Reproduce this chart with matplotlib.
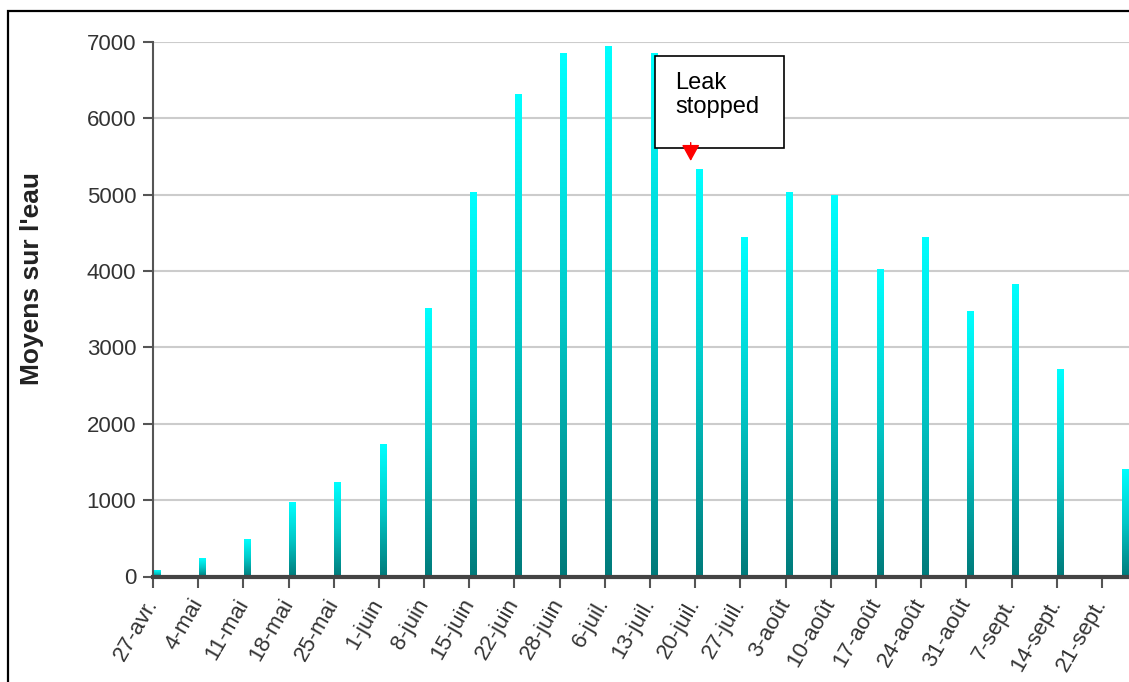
import numpy as np
import matplotlib
matplotlib.use('Agg')
import matplotlib.pyplot as plt
from matplotlib.patches import Rectangle
from matplotlib.colors import LinearSegmentedColormap

plt.rcParams['font.family'] = ['Liberation Sans', 'DejaVu Sans']

# weekly tick labels (days since 27 april)
tick_labels = ['27-avr.', '4-mai', '11-mai', '18-mai', '25-mai', '1-juin', '8-juin',
               '15-juin', '22-juin', '28-juin', '6-juil.', '13-juil.', '20-juil.',
               '27-juil.', '3-août', '10-août', '17-août', '24-août', '31-août',
               '7-sept.', '14-sept.', '21-sept.']
tick_days = [7 * i for i in range(len(tick_labels))]

# bars: day offset and vessels on the water
bar_days = [0, 7, 14, 21, 28, 35, 42, 49, 56, 63, 70, 77, 84, 91, 98, 105,
            112, 119, 126, 133, 140, 150]
vessels = [90, 240, 490, 980, 1235, 1730, 3510, 5030, 6320, 6850, 6950, 6850,
           5340, 4450, 5040, 4990, 4030, 4450, 3480, 3830, 2720, 1410]

fig = plt.figure(figsize=(11.29, 6.82), dpi=100)
ax = fig.add_axes([153 / 1129, 1 - 576.5 / 682, 1 - 153 / 1129, (576.5 - 41.8) / 682])

cmap = LinearSegmentedColormap.from_list('teal', ['#007a7a', '#00c8c8', '#00ffff'])
grad = np.linspace(0, 1, 256).reshape(-1, 1)

bars = ax.bar(np.array(bar_days) + 0.1, vessels, width=1.05, align='edge',
              color='none', edgecolor='none', zorder=2)
for b in bars:
    x0, w, h = b.get_x(), b.get_width(), b.get_height()
    ax.imshow(grad, cmap=cmap, origin='lower', aspect='auto',
              extent=(x0, x0 + w, 0, h), zorder=2, interpolation='bilinear')

ax.set_xlim(0, 151.2)
ax.set_ylim(0, 7000)

ax.set_yticks(range(0, 7001, 1000))
ax.set_yticklabels([str(v) for v in range(0, 7001, 1000)])
ax.set_xticks(tick_days)
ax.set_xticklabels(tick_labels, rotation=60, ha='right', va='center',
                   rotation_mode='anchor')

ax.tick_params(axis='y', length=7, width=1.5, color='#555555', pad=5,
               labelsize=16, labelcolor='#333333')
ax.tick_params(axis='x', length=8, width=1.5, color='#555555', pad=9,
               labelsize=16, labelcolor='#333333')

ax.grid(axis='y', color='#cccccc', linewidth=1.5)
ax.set_axisbelow(True)

for s in ['top', 'right']:
    ax.spines[s].set_visible(False)
ax.spines['left'].set_color('#555555')
ax.spines['left'].set_linewidth(1.5)
ax.spines['bottom'].set_color('#444444')
ax.spines['bottom'].set_linewidth(3)
ax.spines['bottom'].set_zorder(3)

ax.set_ylabel("Moyens sur l'eau", fontsize=19, fontweight='bold', color='#222222',
              va='center')
ax.yaxis.set_label_coords(-0.124, 0.558)

# annotation box
ax.add_patch(Rectangle((77.8, 5605), 19.95, 1209, facecolor='white',
                       edgecolor='black', linewidth=1.2, zorder=5, clip_on=False))
ax.text(80.9, 6600, 'Leak\nstopped', fontsize=17, va='top', ha='left',
        linespacing=1.12, zorder=6)
ax.annotate('', xy=(83.3, 5440), xytext=(83.3, 5680),
            arrowprops=dict(arrowstyle='-|>,head_length=1.0,head_width=0.55',
                            color='red', lw=1, mutation_scale=10,
                            shrinkA=0, shrinkB=0), zorder=6)

# outer frame of the picture
fig.patches.append(Rectangle((8 / 1129, -0.2), 1.2, 1.2 - 11 / 682,
                             transform=fig.transFigure, fill=False,
                             edgecolor='black', linewidth=1.6))

fig.savefig('out.png', dpi=100)
